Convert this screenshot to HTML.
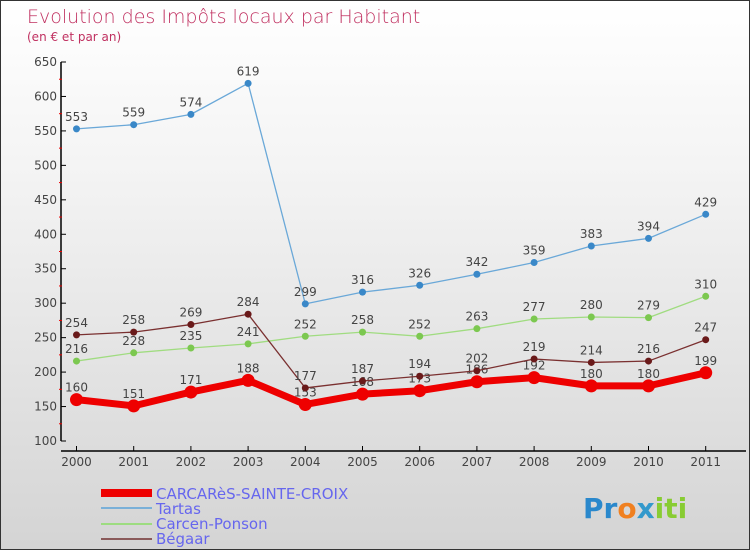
<!DOCTYPE html>
<html><head><meta charset="utf-8"><style>
body{margin:0;width:750px;height:550px;overflow:hidden;font-family:"DejaVu Sans","Liberation Sans",sans-serif}
#c{position:absolute;left:0;top:0;width:748px;height:548px;border:1px solid #333;background:linear-gradient(#fff 0%,#f4f4f4 30%,#d4d4d4 100%)}
</style></head><body>
<div id="c">
<svg width="750" height="550" font-family="DejaVu Sans, Liberation Sans, sans-serif">
<text x="26" y="22" font-size="19" fill="#c03060" style="font-weight:200">Evolution des Impôts locaux par Habitant</text>
<text x="26" y="40" font-size="12" fill="#c03060">(en € et par an)</text>
<g id="axes"></g><g id="series"></g>
<g>
<rect x="100" y="488" width="51" height="8" fill="#e00"/>
<text x="155" y="498" font-size="15" fill="#6666ee">CARCARèS-SAINTE-CROIX</text>
<rect x="100" y="506" width="51" height="2" fill="#7ab0d8"/>
<text x="155" y="513" font-size="15" fill="#6666ee">Tartas</text>
<rect x="100" y="522" width="51" height="2" fill="#9ddc80"/>
<text x="155" y="528" font-size="15" fill="#6666ee">Carcen-Ponson</text>
<rect x="100" y="537" width="51" height="2" fill="#8a5a5a"/>
<text x="155" y="543" font-size="15" fill="#6666ee">Bégaar</text>
</g>
<text x="582" y="517" font-size="28" font-weight="bold" fill="#3399cc"><tspan fill="#2a88cc">Pr</tspan><tspan fill="#f08020">o</tspan><tspan fill="#3399cc">x</tspan><tspan fill="#88cc33">iti</tspan></text>
</svg></div>
<script>
const years=["2000","2001","2002","2003","2004","2005","2006","2007","2008","2009","2010","2011"];
const yTicks=[100,150,200,250,300,350,400,450,500,550,600,650];
const tartas=[553,559,574,619,299,316,326,342,359,383,394,429];
const carcen=[216,228,235,241,252,258,252,263,277,280,279,310];
const begaar=[254,258,269,284,177,187,194,202,219,214,216,247];
const carcares=[160,151,171,188,153,168,173,186,192,180,180,199];
const NS="http://www.w3.org/2000/svg";
const X=i=>75.5+i*57.2, Y=v=>440-(v-100)*379/550;
function mk(t,a,p){const e=document.createElementNS(NS,t);for(const k in a)e.setAttribute(k,a[k]);p.appendChild(e);return e;}
const ax=document.getElementById('axes'), se=document.getElementById('series');
let l=mk('line',{x1:60,y1:61,x2:60,y2:440,stroke:'#000','stroke-width':1.5},ax);

l=mk('line',{x1:60,y1:450,x2:745,y2:450,stroke:'#000','stroke-width':1.5},ax);

yTicks.forEach((v,i)=>{mk('line',{x1:60,y1:Y(v),x2:65,y2:Y(v),stroke:'#000'},ax);
 if(i<yTicks.length-1)mk('line',{x1:58,y1:Y(v+25),x2:61,y2:Y(v+25),stroke:'#e00'},ax);
 const t=mk('text',{x:56,y:Y(v)+4,'font-size':12,fill:'#444','text-anchor':'end'},ax);t.textContent=v;
 });
years.forEach((y,i)=>{mk('line',{x1:X(i),y1:445,x2:X(i),y2:450,stroke:'#000'},ax);
 const t=mk('text',{x:X(i),y:465,'font-size':12,fill:'#444','text-anchor':'middle'},ax);t.textContent=y;
 });
function series(name,d,col,dot,w,r){const g=mk('g',{},se);
 
 const p=mk('polyline',{points:d.map((v,i)=>X(i)+','+Y(v)).join(' '),fill:'none',stroke:col,'stroke-width':w,'stroke-linejoin':'round'},g);
 
 d.forEach((v,i)=>{const c=mk('circle',{cx:X(i),cy:Y(v),r:r,fill:dot},g);
  
  const t=mk('text',{x:X(i),y:Y(v)-8,'font-size':12,fill:'#444','text-anchor':'middle'},g);t.textContent=v;
  });}
series('carcares',carcares,'#e00','#e00',7,6.5);
series('tartas',tartas,'#6aa8d8','#3a88c8',1.3,3.5);
series('carcen',carcen,'#a0dc80','#7cc850',1.3,3.5);
series('begaar',begaar,'#7a3030','#6a1a1a',1.3,3.5);
</script>
</body></html>
